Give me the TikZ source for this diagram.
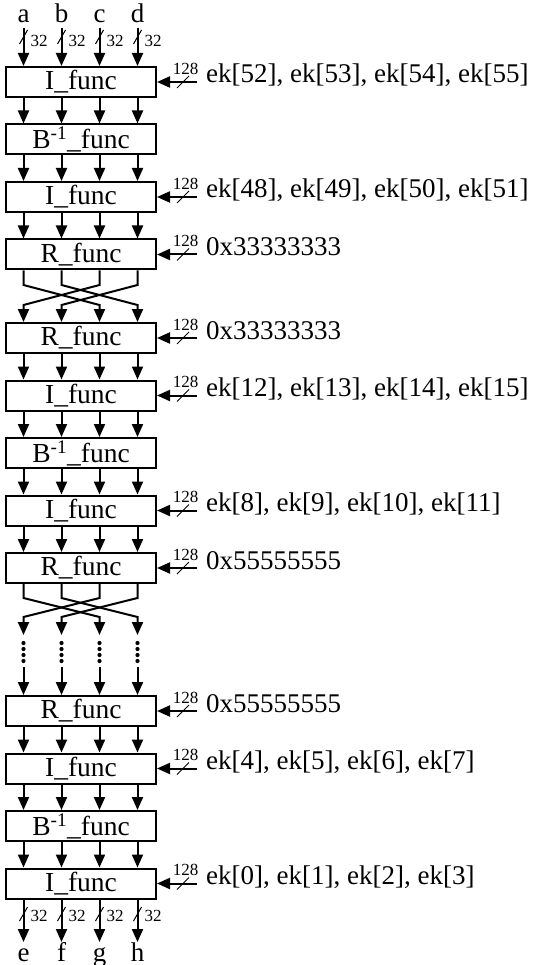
\documentclass[tikz,border=0pt]{standalone}
\usepackage{fontspec}
\setmainfont{Liberation Serif}
\usetikzlibrary{arrows.meta,calc}
\tikzset{
  fbox/.style={draw, line width=2pt, minimum width=150pt, minimum height=30pt, inner sep=0pt, font=\fontsize{27.5}{27.5}\selectfont},
  arr/.style={line width=2pt, -{Triangle[length=13pt,width=11pt]}},
  slash/.style={line width=1pt},
  keytxt/.style={anchor=base west, inner sep=0pt, font=\fontsize{27}{27}\selectfont},
  bus/.style={inner sep=0pt, font=\fontsize{17}{17}\selectfont},
  io/.style={anchor=base, inner sep=0pt, font=\fontsize{27}{27}\selectfont}
}
\newcommand\keyin[3]{%
  \node[keytxt] (#2) at ($(#1.east)+(49,1)$) {#3};
  \draw[arr] ($(#2.west |- #1.east)+(-9,0)$) -- (#1.east);
  \draw[slash] ($(#1.east)+(20,6)$) -- ($(#1.east)+(32,-6)$);
  \node[bus] at ($(#1.east)+(28.5,-13.5)$) {128};
}
\newcommand\linkboxes[2]{%
  \foreach \c in {cA,cB,cC,cD} {\draw[arr] (#1.south -| \c) -- (#2.north -| \c);}
}
\begin{document}
\begin{tikzpicture}[x=1pt,y=-1pt]
\useasboundingbox (0,0) rectangle (534,965);
\coordinate (cA) at (23.5,0);
\coordinate (cB) at (61.5,0);
\coordinate (cC) at (99.5,0);
\coordinate (cD) at (137.5,0);

% boxes
\node[fbox] (b1) at (81,82) {I\_func};
\node[fbox] (b2) at (81,139.5) {B\textsuperscript{-1}\_func};
\node[fbox] (b3) at (81,197) {I\_func};
\node[fbox] (b4) at (81,254.5) {R\_func};
\node[fbox] (b5) at (81,338) {R\_func};
\node[fbox] (b6) at (81,395.5) {I\_func};
\node[fbox] (b7) at (81,453) {B\textsuperscript{-1}\_func};
\node[fbox] (b8) at (81,510.5) {I\_func};
\node[fbox] (b9) at (81,568) {R\_func};
\node[fbox] (b10) at (81,711) {R\_func};
\node[fbox] (b11) at (81,768.5) {I\_func};
\node[fbox] (b12) at (81,826) {B\textsuperscript{-1}\_func};
\node[fbox] (b13) at (81,883.5) {I\_func};

% key inputs
\keyin{b1}{k1}{ek[52], ek[53], ek[54], ek[55]}
\keyin{b3}{k3}{ek[48], ek[49], ek[50], ek[51]}
\keyin{b4}{k4}{0x33333333}
\keyin{b5}{k5}{0x33333333}
\keyin{b6}{k6}{ek[12], ek[13], ek[14], ek[15]}
\keyin{b8}{k8}{ek[8], ek[9], ek[10], ek[11]}
\keyin{b9}{k9}{0x55555555}
\keyin{b10}{k10}{0x55555555}
\keyin{b11}{k11}{ek[4], ek[5], ek[6], ek[7]}
\keyin{b13}{k13}{ek[0], ek[1], ek[2], ek[3]}

% straight links
\linkboxes{b1}{b2}
\linkboxes{b2}{b3}
\linkboxes{b3}{b4}
\linkboxes{b5}{b6}
\linkboxes{b6}{b7}
\linkboxes{b7}{b8}
\linkboxes{b8}{b9}
\linkboxes{b10}{b11}
\linkboxes{b11}{b12}
\linkboxes{b12}{b13}

% first crossing b4 -> b5
\draw[arr] (b4.south -| cA) -- ++(0,14.5) -- ($(b5.north -| cC)+(0,-17)$) -- (b5.north -| cC);
\draw[arr] (b4.south -| cB) -- ++(0,14.5) -- ($(b5.north -| cD)+(0,-17)$) -- (b5.north -| cD);
\draw[arr] (b4.south -| cC) -- ++(0,14.5) -- ($(b5.north -| cA)+(0,-17)$) -- (b5.north -| cA);
\draw[arr] (b4.south -| cD) -- ++(0,14.5) -- ($(b5.north -| cB)+(0,-17)$) -- (b5.north -| cB);

% second crossing b9 -> dots
\coordinate (tA) at (23.5,635);
\coordinate (tB) at (61.5,635);
\coordinate (tC) at (99.5,635);
\coordinate (tD) at (137.5,635);
\draw[arr] (b9.south -| cA) -- ++(0,14) -- ($(tC)+(0,-18)$) -- (tC);
\draw[arr] (b9.south -| cB) -- ++(0,14) -- ($(tD)+(0,-18)$) -- (tD);
\draw[arr] (b9.south -| cC) -- ++(0,14) -- ($(tA)+(0,-18)$) -- (tA);
\draw[arr] (b9.south -| cD) -- ++(0,14) -- ($(tB)+(0,-18)$) -- (tB);
\foreach \x in {23.5,61.5,99.5,137.5} {
  \foreach \y in {643,649,655,661} {\fill (\x,\y) circle (2.1pt);}
}
\coordinate (sA) at (23.5,667);
\coordinate (sB) at (61.5,667);
\coordinate (sC) at (99.5,667);
\coordinate (sD) at (137.5,667);
\draw[arr] (sA) -- (b10.north -| sA);
\draw[arr] (sB) -- (b10.north -| sB);
\draw[arr] (sC) -- (b10.north -| sC);
\draw[arr] (sD) -- (b10.north -| sD);

% top inputs
\node[io] (la) at (23.5,23) {a};
\node[io] (lb) at (61.5,23) {b};
\node[io] (lc) at (99.5,23) {c};
\node[io] (ld) at (137.5,23) {d};
\foreach \n in {la,lb,lc,ld} {\draw[arr] ([yshift=-5pt]\n.base) -- (b1.north -| \n.base);}
\foreach \x in {23.5,61.5,99.5,137.5} {
  \draw[slash] (\x-4,44) -- (\x+4,30);
  \node[bus,anchor=west] at (\x+7,40.5) {32};
}

% bottom outputs
\node[io] (le) at (23.5,961) {e};
\node[io] (lf) at (61.5,961) {f};
\node[io] (lg) at (99.5,961) {g};
\node[io] (lh) at (137.5,961) {h};
\foreach \n in {le,lf,lg,lh} {\draw[arr] (b13.south -| \n.base) -- ([yshift=19pt]\n.base);}
\foreach \x in {23.5,61.5,99.5,137.5} {
  \draw[slash] (\x-4,921) -- (\x+4,907);
  \node[bus,anchor=west] at (\x+7,915.5) {32};
}
\end{tikzpicture}
\end{document}
